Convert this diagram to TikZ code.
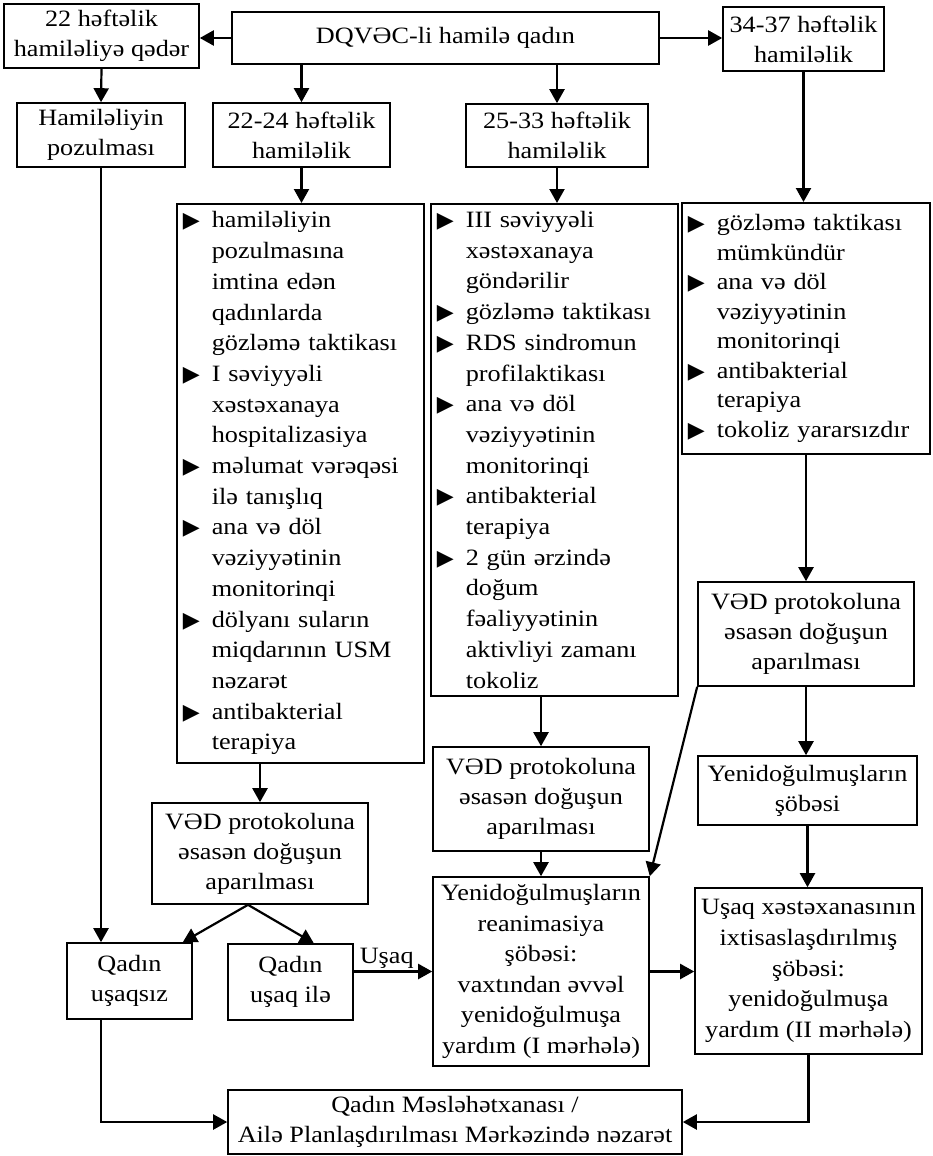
\documentclass[tikz,border=0pt]{standalone}
\usepackage{fontspec}
\setmainfont{Liberation Serif}[FakeStretch=1.12]
\newfontfamily\trifont{DejaVu Sans}
\usetikzlibrary{arrows.meta}
\newcommand\tribul{\makebox[29pt][l]{\trifont\fontsize{22}{22}\selectfont ▶}}
\newcommand\triskip{\hspace*{29pt}}

\begin{document}
\begin{tikzpicture}[x=1pt, y=-1pt, font=\fontsize{23.4}{30}\selectfont,
  box/.style={draw, line width=1.6pt, align=center, inner sep=2pt},
  listbox/.style={draw, line width=1.6pt, align=left, anchor=north west, inner xsep=6pt, inner ysep=2pt},
  arr/.style={line width=2.2pt, -{Triangle[length=14pt, width=15pt]}},
  link/.style={line width=2.2pt}]

\useasboundingbox (0,0) rectangle (933,1156);

% top row
\node[box, minimum width=427pt, minimum height=52pt] (top) at (445.5,38) {DQVƏC-li hamilə qadın};
\node[box, minimum width=195pt, minimum height=64pt] (b22) at (101.5,36) {22 həftəlik\\hamiləliyə qədər};
\node[box, minimum width=161pt, minimum height=64pt] (b3437) at (803.5,39) {34-37 həftəlik\\hamiləlik};

% second row
\node[box, minimum width=168pt, minimum height=64pt] (pozul) at (101,135) {Hamiləliyin\\pozulması};
\node[box, minimum width=177pt, minimum height=64pt] (b2224) at (301.5,135) {22-24 həftəlik\\hamiləlik};
\node[box, minimum width=182pt, minimum height=63pt] (b2533) at (557,135.5) {25-33 həftəlik\\hamiləlik};

% lists
\node[listbox, text width=235pt, minimum height=559pt, font=\fontsize{23.4}{30.7}\selectfont] (list22) at (176,203) {%
\tribul hamiləliyin\\
\triskip pozulmasına\\
\triskip imtina edən\\
\triskip qadınlarda\\
\triskip gözləmə taktikası\\
\tribul I səviyyəli\\
\triskip xəstəxanaya\\
\triskip hospitalizasiya\\
\tribul məlumat vərəqəsi\\
\triskip ilə tanışlıq\\
\tribul ana və döl\\
\triskip vəziyyətinin\\
\triskip monitorinqi\\
\tribul dölyanı suların\\
\triskip miqdarının USM\\
\triskip nəzarət\\
\tribul antibakterial\\
\triskip terapiya};

\node[listbox, text width=235pt, minimum height=492pt, font=\fontsize{23.4}{30.7}\selectfont] (list25) at (430,203) {%
\tribul III səviyyəli\\
\triskip xəstəxanaya\\
\triskip göndərilir\\
\tribul gözləmə taktikası\\
\tribul RDS sindromun\\
\triskip profilaktikası\\
\tribul ana və döl\\
\triskip vəziyyətinin\\
\triskip monitorinqi\\
\tribul antibakterial\\
\triskip terapiya\\
\tribul 2 gün ərzində\\
\triskip doğum\\
\triskip fəaliyyətinin\\
\triskip aktivliyi zamanı\\
\triskip tokoliz};

\node[listbox, text width=236pt, minimum height=251pt, font=\fontsize{23.4}{29.5}\selectfont] (list34) at (681,202) {%
\tribul gözləmə taktikası\\
\triskip mümkündür\\
\tribul ana və döl\\
\triskip vəziyyətinin\\
\triskip monitorinqi\\
\tribul antibakterial\\
\triskip terapiya\\
\tribul tokoliz yararsızdır};

% delivery boxes
\node[box, minimum width=216pt, minimum height=101pt] (ved1) at (260,853.5) {VƏD protokoluna\\əsasən doğuşun\\aparılması};
\node[box, minimum width=216pt, minimum height=104pt] (ved2) at (541,799) {VƏD protokoluna\\əsasən doğuşun\\aparılması};
\node[box, minimum width=216pt, minimum height=104pt] (ved3) at (806,634) {VƏD protokoluna\\əsasən doğuşun\\aparılması};
\node[box, minimum width=219pt, minimum height=69pt] (yeni) at (807.5,790.5) {Yenidoğulmuşların\\şöbəsi};

% lower row
\node[box, minimum width=125pt, minimum height=76pt] (usaqsiz) at (129.5,981) {Qadın\\uşaqsız};
\node[box, minimum width=125pt, minimum height=76pt] (usaqile) at (290.5,982) {Qadın\\uşaq ilə};
\node[box, minimum width=216pt, minimum height=189pt, font=\fontsize{23.4}{30.5}\selectfont] (reanim) at (541,971.5) {Yenidoğulmuşların\\reanimasiya\\şöbəsi:\\vaxtından əvvəl\\yenidoğulmuşa\\yardım (I mərhələ)};
\node[box, minimum width=227pt, minimum height=166pt, font=\fontsize{23.4}{30.8}\selectfont] (usaqx) at (808.5,971) {Uşaq xəstəxanasının\\ixtisaslaşdırılmış\\şöbəsi:\\yenidoğulmuşa\\yardım (II mərhələ)};
\node[box, minimum width=454pt, minimum height=64pt] (bottom) at (455,1122) {Qadın Məsləhətxanası /\\Ailə Planlaşdırılması Mərkəzində nəzarət};

% connectors
\draw[arr] (top.west) -- (b22.east |- top.west);
\draw[arr] (top.east) -- (b3437.west |- top.east);
\draw[arr] (b22.south) -- (pozul.north);
\draw[arr] (b2224.north |- top.south) -- (b2224.north);
\draw[arr] (b2533.north |- top.south) -- (b2533.north);
\draw[arr] (b2224.south) -- (b2224.south |- list22.north);
\draw[arr] (b2533.south) -- (b2533.south |- list25.north);
\draw[arr] (b3437.south) -- (b3437.south |- list34.north);
\draw[arr] (pozul.south) -- (pozul.south |- usaqsiz.north);
\draw[arr] (ved1.north |- list22.south) -- (ved1.north);
\draw[arr] (ved2.north |- list25.south) -- (ved2.north);
\draw[arr] (ved3.north |- list34.south) -- (ved3.north);
\draw[arr] (ved3.south) -- (ved3.south |- yeni.north);
\draw[arr] (ved3.south west) -- (reanim.north east);
\draw[arr] (ved2.south) -- (reanim.north);
\draw[arr] (yeni.south) -- (yeni.south |- usaqx.north);

\coordinate (split) at ([xshift=-12pt]ved1.south);
\draw[arr] (split) -- ([xshift=-10pt]usaqsiz.north east);
\draw[arr] (split) -- ([xshift=-40pt]usaqile.north east);

\draw[arr] (usaqile.east |- reanim.west) -- (reanim.west)
  node[above, pos=0.42, inner sep=2pt] (lblusaq) {Uşaq};
\draw[arr] (reanim.east) -- (reanim.east -| usaqx.west);
\draw[arr] (pozul.south |- usaqsiz.south) |- (bottom.west);
\draw[arr] (usaqx.south) |- (bottom.east);

\end{tikzpicture}
\end{document}
